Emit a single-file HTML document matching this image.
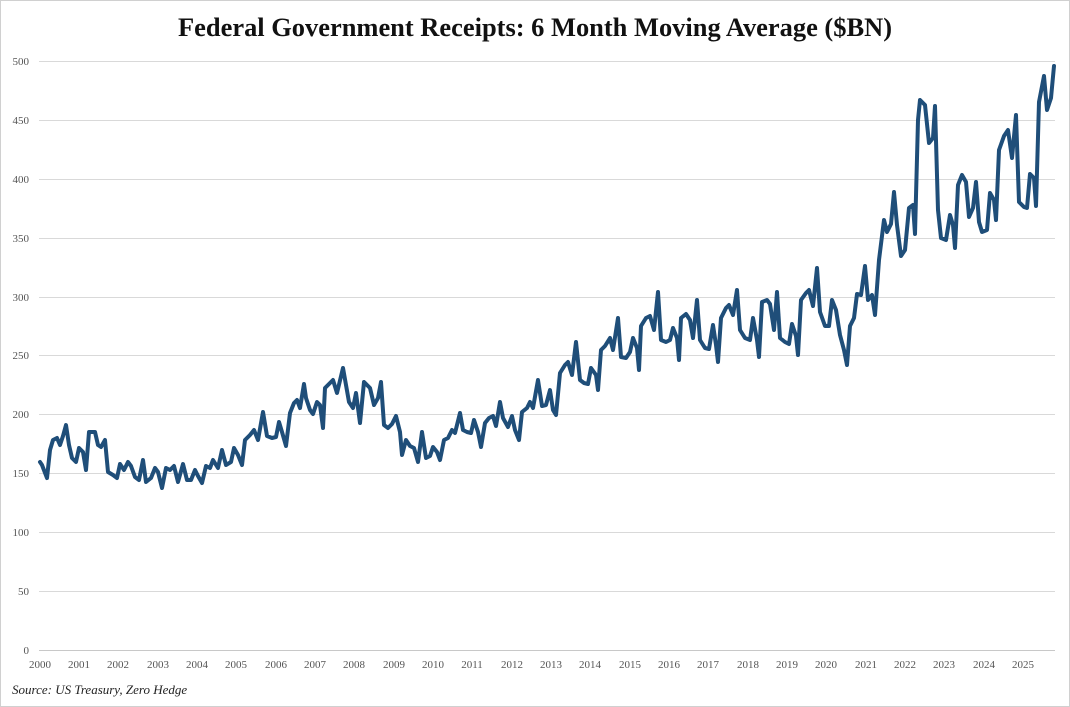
<!DOCTYPE html>
<html><head><meta charset="utf-8"><style>
body{margin:0;background:#fff}
svg{display:block}
</style></head><body>
<svg width="1070" height="707" viewBox="0 0 1070 707" xmlns="http://www.w3.org/2000/svg">
<rect x="0.5" y="0.5" width="1069" height="706" fill="#fff" stroke="#d0d0d0"/>
<text x="178" y="36" textLength="714" lengthAdjust="spacingAndGlyphs" font-family="Liberation Serif, serif" font-weight="bold" font-size="26" fill="#111">Federal Government Receipts: 6 Month Moving Average ($BN)</text>
<g stroke="#d9d9d9" stroke-width="1">
<line x1="39" x2="1055" y1="61.5" y2="61.5"/><line x1="39" x2="1055" y1="120.5" y2="120.5"/>
<line x1="39" x2="1055" y1="179.5" y2="179.5"/><line x1="39" x2="1055" y1="238.5" y2="238.5"/>
<line x1="39" x2="1055" y1="297.5" y2="297.5"/><line x1="39" x2="1055" y1="355.5" y2="355.5"/>
<line x1="39" x2="1055" y1="414.5" y2="414.5"/><line x1="39" x2="1055" y1="473.5" y2="473.5"/>
<line x1="39" x2="1055" y1="532.5" y2="532.5"/><line x1="39" x2="1055" y1="591.5" y2="591.5"/>
<line x1="39" x2="1055" y1="650.5" y2="650.5" stroke="#c8c8c8"/>
</g>
<g font-family="Liberation Serif, serif" font-size="11" fill="#555" text-anchor="end">
<text x="29" y="65">500</text><text x="29" y="124">450</text><text x="29" y="183">400</text><text x="29" y="242">350</text><text x="29" y="301">300</text><text x="29" y="359">250</text><text x="29" y="418">200</text><text x="29" y="477">150</text><text x="29" y="536">100</text><text x="29" y="595">50</text><text x="29" y="654">0</text>
</g>
<g font-family="Liberation Serif, serif" font-size="11" fill="#555" text-anchor="middle">
<text x="40" y="668">2000</text><text x="79" y="668">2001</text><text x="118" y="668">2002</text><text x="158" y="668">2003</text><text x="197" y="668">2004</text><text x="236" y="668">2005</text><text x="276" y="668">2006</text><text x="315" y="668">2007</text><text x="354" y="668">2008</text><text x="394" y="668">2009</text><text x="433" y="668">2010</text><text x="472" y="668">2011</text><text x="512" y="668">2012</text><text x="551" y="668">2013</text><text x="590" y="668">2014</text><text x="630" y="668">2015</text><text x="669" y="668">2016</text><text x="708" y="668">2017</text><text x="748" y="668">2018</text><text x="787" y="668">2019</text><text x="826" y="668">2020</text><text x="866" y="668">2021</text><text x="905" y="668">2022</text><text x="944" y="668">2023</text><text x="984" y="668">2024</text><text x="1023" y="668">2025</text>
</g>
<text x="12" y="694" font-family="Liberation Serif, serif" font-style="italic" font-size="13" fill="#222">Source: US Treasury, Zero Hedge</text>
<polyline fill="none" stroke="#1f4e79" stroke-width="4" stroke-linejoin="round" stroke-linecap="round" points="40,462 42,465 47,478 50,450 53,440 57,438 60,445 63,436 66,425 69,445 72,458 76,462 79,448 83,452 86,470 89,432 95,432 98,445 101,447 105,440 108,472 113,475 117,478 120,464 124,470 128,462 131,466 135,477 139,480 143,460 146,482 151,478 155,468 158,472 162,488 166,468 170,470 174,466 178,482 183,464 187,480 191,480 195,470 198,476 202,483 206,466 210,468 213,460 218,468 222,450 226,465 231,462 234,448 238,455 242,465 245,440 250,435 254,430 258,440 263,412 267,436 272,438 276,437 279,422 282,432 286,446 290,413 294,403 297,400 300,408 304,384 306,398 310,410 313,414 317,402 320,405 323,428 325,388 330,383 333,380 337,393 343,368 346,385 349,402 353,408 356,393 360,423 364,382 370,388 374,405 378,398 381,382 384,425 388,428 392,424 396,416 400,432 402,455 406,440 410,446 414,448 418,462 422,432 426,458 430,456 433,447 437,452 440,460 444,440 448,438 452,430 455,433 460,413 463,430 467,432 471,433 474,420 478,432 481,447 485,423 489,418 493,416 496,426 500,402 503,418 508,427 512,416 515,430 519,440 522,412 527,408 530,402 533,408 538,380 542,406 546,405 550,390 553,410 556,415 560,373 565,365 568,362 572,375 576,342 580,380 584,383 588,384 591,368 596,375 598,390 601,350 605,346 610,338 613,350 618,318 621,357 626,358 630,352 633,338 637,348 639,370 641,326 646,318 650,316 654,330 658,292 661,340 666,342 670,340 673,328 677,338 679,360 681,318 686,314 690,320 693,338 697,300 700,340 705,348 709,349 713,325 716,345 718,362 721,318 726,308 729,305 733,315 737,290 740,330 745,338 750,340 753,318 757,340 759,357 762,302 767,300 770,304 774,330 777,292 780,338 785,342 789,344 792,324 796,336 798,355 801,300 806,293 809,290 813,306 817,268 820,312 825,326 829,326 832,300 836,310 840,335 844,350 847,365 850,326 854,318 857,294 861,295 865,266 868,300 872,295 875,315 879,260 884,220 887,232 891,224 894,192 897,225 901,256 905,250 909,208 913,205 915,234 918,120 920,100 925,105 929,143 933,138 935,106 938,210 941,238 946,240 950,215 953,225 955,248 958,185 962,175 966,182 969,217 973,208 976,182 979,222 982,232 987,230 990,193 994,200 996,220 999,150 1004,136 1008,130 1012,158 1016,115 1019,202 1024,207 1027,208 1030,174 1034,178 1036,206 1039,102 1044,76 1047,110 1051,98 1054,66"/>
</svg>
</body></html>
